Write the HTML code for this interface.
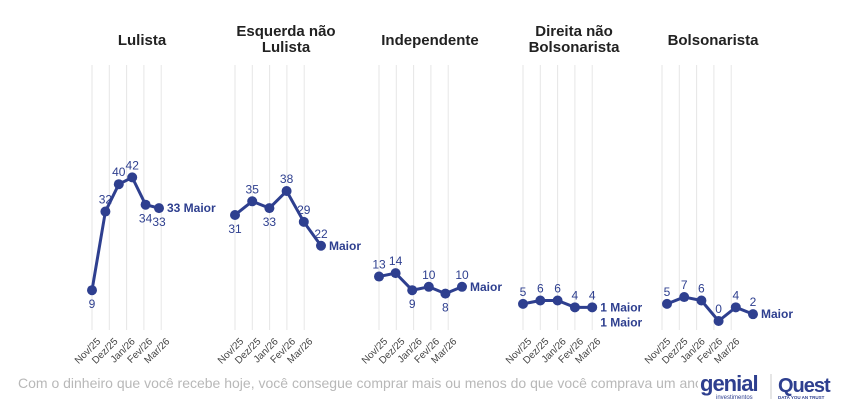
<!DOCTYPE html>
<html><head><meta charset="utf-8"><style>
body{margin:0;background:#fff;width:847px;height:401px;overflow:hidden;font-family:"Liberation Sans",sans-serif}
svg{display:block}
</style></head><body>
<svg id="chart" width="847" height="401">
<g id="grids"></g><g id="marks"></g>
<text x="18" y="388" font-size="14" fill="#b8b8b8">Com o dinheiro que você recebe hoje, você consegue comprar mais ou menos do que você comprava um ano atrás?</text>
<rect x="698" y="370" width="72" height="31" fill="#fff"/>
<g>
<text x="700" y="391" font-size="22" font-weight="bold" fill="#2e3f8f" letter-spacing="-1">genial</text>
<text x="716" y="399" font-size="6" fill="#2e3f8f">investimentos</text>
</g>
<line x1="771" y1="374" x2="771" y2="399" stroke="#ccc"/>
<g>
<text x="778" y="392" font-size="20" font-weight="bold" fill="#2e3f8f" letter-spacing="-1">Quest</text>
<text x="778" y="399" font-size="4.5" font-weight="bold" fill="#2e3f8f">DATA YOU AN TRUST</text>
</g>
</svg>
<script>
const months = ["Nov/25","Dez/25","Jan/26","Fev/26","Mar/26"];
const titles = [["Lulista"],["Esquerda não","Lulista"],["Independente"],["Direita não","Bolsonarista"],["Bolsonarista"]];
const lulista = [9,32,40,42,34,33];
const esquerda = [31,35,33,38,29,22];
const independente = [13,14,9,10,8,10];
const direita = [5,6,6,4,4];
const bolsonarista = [5,7,6,0,4,2];
const series = [lulista,esquerda,independente,direita,bolsonarista];
const valueLabels = [["9","32","40","42","34","33"],["31","35","33","38","29","22"],["13","14","9","10","8","10"],["5","6","6","4","4"],["5","7","6","0","4","2"]];
const endLabels = [["33 Maior"],["Maior"],["Maior"],["1 Maior","1 Maior"],["Maior"]];
// layout (style, not data)
const gridX0 = [92,235,379,523,662];
const gridStep = 17.3;
const ptX0 = [92,235,379,523,667];
const ptStep = [13.4,17.2,16.6,17.3,17.2];
const labelPos = [["b","a","a","a","b","b"],["b","a","b","a","a","a"],["a","a","b","a","b","a"],["a","a","a","a","a"],["a","a","a","a","a","a"]];
const titleCX = [142,286,430,574,713];
function y(v){return 321 - v*3.42;}
const NS="http://www.w3.org/2000/svg";
const grids=document.getElementById('grids'), marks=document.getElementById('marks');
function el(tag,attrs,parent,txt){const e=document.createElementNS(NS,tag);for(const k in attrs)e.setAttribute(k,attrs[k]);if(txt!==undefined)e.textContent=txt;parent.appendChild(e);return e;}
series.forEach((vals,p)=>{
  const tl=titles[p];
  tl.forEach((t,i)=>{
    const ty = tl.length===1?45:36+i*16;
    const e=el('text',{x:titleCX[p],y:ty,'font-size':15,'font-weight':'bold','text-anchor':'middle',fill:'#222'},grids,t);
    
    
  });
  months.forEach((m,i)=>{
    const gx=gridX0[p]+i*gridStep;
    const l=el('line',{x1:gx,y1:65,x2:gx,y2:330,stroke:'#e6e6e6','stroke-width':1},grids);
    
    
    const tx=gx+9, ty=342;
    const t=el('text',{x:tx,y:ty,'font-size':10,fill:'#444','text-anchor':'end',transform:`rotate(-45 ${tx} ${ty})`},grids,m);
    
    
  });
  const pts=vals.map((v,i)=>[ptX0[p]+i*ptStep[p],y(v)]);
  const pl=el('polyline',{points:pts.map(q=>q.join(',')).join(' '),fill:'none',stroke:'#2e3f8f','stroke-width':3,'stroke-linejoin':'round'},marks);
  
  
  pts.forEach((q,i)=>{
    const c=el('circle',{cx:q[0],cy:q[1],r:5,fill:'#2e3f8f'},marks);
    
    
    const a=labelPos[p][i]==='a';
    const t=el('text',{x:q[0],y:a?q[1]-8:q[1]+18,'font-size':12,fill:'#2e3f8f','text-anchor':'middle'},marks,valueLabels[p][i]);
    
    
  });
  const last=pts[pts.length-1];
  endLabels[p].forEach((s,i)=>{
    const t=el('text',{x:last[0]+8,y:last[1]+4+i*15,'font-size':12,'font-weight':'bold',fill:'#2e3f8f'},marks,s);
    
    
  });
});
</script>
</body></html>
